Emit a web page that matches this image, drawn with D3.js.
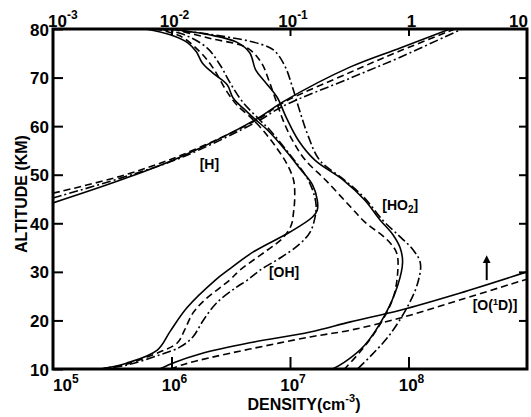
<!DOCTYPE html>
<html>
<head>
<meta charset="utf-8">
<script src="https://cdn.jsdelivr.net/npm/d3@7/dist/d3.min.js"></script>
<style>
  body { margin: 0; background: #fff; }
  svg { display: block; }
</style>
</head>
<body>
<svg id="chart" width="531" height="417"></svg>
<script>
// Vertical profiles, each point is [altitude (km), log10 density (cm^-3)]
const hSolid   = [[44.2,5.00],[48.9,5.57],[53.6,6.07],[61.5,6.72],[65.0,6.94],[72.2,7.51],[76.1,7.93],[80.0,8.35]];
const hDashed  = [[46.2,5.00],[49.7,5.57],[53.9,6.07],[61.3,6.72],[64.8,6.94],[71.1,7.51],[75.5,7.93],[80.0,8.39]];
const hDashDot = [[45.2,5.00],[49.3,5.57],[53.4,6.07],[60.9,6.72],[64.1,6.94],[69.9,7.51],[74.2,7.93],[80.0,8.45]];

const ohSolid = [[80.0,5.78],[78.8,5.99],[77.1,6.14],[75.3,6.21],[73.0,6.26],[70.9,6.35],[68.5,6.47],[65.8,6.52],
  [62.9,6.64],[60.9,6.73],[59.2,6.81],[55.1,6.96],[51.4,7.08],[47.9,7.19],[44.8,7.23],[42.7,7.23],[41.3,7.19],
  [38.2,7.00],[34.1,6.69],[30.4,6.48],[28.3,6.37],[22.6,6.13],[17.8,5.99],[13.9,5.88],[11.2,5.62],[10.0,5.40]];
const ohDashed = [[80.0,5.86],[78.6,6.07],[75.3,6.24],[72.0,6.35],[67.0,6.47],[64.4,6.55],[61.3,6.69],[59.2,6.77],
  [56.1,6.87],[52.4,6.97],[48.9,7.03],[45.4,7.04],[42.3,7.03],[39.6,7.01],[37.0,6.94],[34.5,6.81],[30.4,6.58],
  [28.3,6.49],[24.2,6.28],[21.5,6.18],[18.0,6.11],[15.4,6.05],[13.5,5.90],[11.0,5.62],[10.0,5.40]];
const ohDashDot = [[80.0,5.90],[78.8,6.11],[76.1,6.30],[72.6,6.41],[69.1,6.49],[65.0,6.60],[60.9,6.76],[59.2,6.83],
  [54.1,7.00],[49.9,7.13],[46.9,7.19],[43.8,7.22],[41.1,7.21],[38.2,7.17],[35.7,7.08],[32.9,6.92],[30.4,6.75],
  [28.3,6.64],[26.7,6.54],[23.6,6.38],[20.1,6.27],[16.6,6.18],[14.5,6.07],[12.9,5.90],[10.8,5.62],[10.0,5.40]];

const ho2Solid = [[80.0,5.99],[78.8,6.32],[77.3,6.55],[75.1,6.66],[71.6,6.71],[69.1,6.79],[66.0,6.89],[61.7,6.97],
  [57.1,7.07],[53.0,7.21],[48.9,7.45],[44.8,7.63],[40.7,7.76],[37.6,7.87],[34.9,7.93],[32.0,7.95],[27.3,7.91],
  [21.1,7.80],[14.9,7.63],[11.4,7.46],[10.0,7.36]];
const ho2Dashed = [[80.0,6.01],[78.1,6.32],[76.1,6.64],[73.0,6.76],[69.5,6.82],[65.4,6.88],[61.3,6.94],[57.1,7.02],
  [53.0,7.13],[48.9,7.30],[43.4,7.51],[40.3,7.63],[36.6,7.82],[33.9,7.90],[30.4,7.91],[24.6,7.87],[18.4,7.74],
  [13.5,7.59],[10.0,7.46]];
const ho2DashDot = [[80.0,5.95],[78.6,6.41],[76.9,6.75],[75.5,6.87],[72.2,6.96],[68.1,7.02],[63.3,7.08],[58.2,7.15],
  [53.0,7.25],[48.9,7.46],[45.2,7.63],[40.7,7.78],[37.2,7.93],[34.5,8.04],[31.8,8.10],[27.9,8.08],[23.2,8.00],
  [17.0,7.84],[12.9,7.69],[10.0,7.57]];

const o1dSolid  = [[10.0,5.90],[11.4,6.03],[13.1,6.24],[15.4,6.66],[17.6,7.17],[19.7,7.51],[22.1,7.93],[25.6,8.43],[30.0,9.00]];
const o1dDashed = [[10.0,5.99],[11.0,6.11],[12.3,6.32],[14.1,6.66],[16.6,7.17],[18.0,7.51],[20.5,7.93],[24.2,8.43],[28.5,9.00]];

// Axis ticks
const altitudeTicks = [10, 20, 30, 40, 50, 60, 70, 80];
const densityExponents = [5, 6, 7, 8];
const topTickValues = [1e-3, 1e-2, 1e-1, 1, 10];
const topTickLabels = [["10", "-3"], ["10", "-2"], ["10", "-1"], ["1", ""], ["10", ""]];

// Upward arrow beside the O(1D) profile: log10 density, altitude range (km)
const arrowMark = { lg: 8.66, from: 28.3, to: 32.6 };

const W = 531, H = 417;
const m = { left: 53, right: 4, top: 29, bottom: 48 };
const svg = d3.select("#chart");

const x = d3.scaleLog().domain([1e5, 1e9]).range([m.left, W - m.right]);
const xTop = d3.scaleLog().domain([1e-3, 10]).range([m.left, W - m.right]);
const y = d3.scaleLinear().domain([10, 80]).range([H - m.bottom, m.top]);

const FONT = "'Liberation Sans', Arial, Helvetica, sans-serif";

svg.append("defs").append("clipPath").attr("id", "plot")
  .append("rect")
  .attr("x", x.range()[0]).attr("y", y.range()[1])
  .attr("width", x.range()[1] - x.range()[0])
  .attr("height", y.range()[0] - y.range()[1]);

const line = d3.line()
  .x(d => x(Math.pow(10, d[1])))
  .y(d => y(d[0]))
  .curve(d3.curveCatmullRom.alpha(0.5));

const DASH = { solid: null, dashed: "7,4", dashdot: "9,3,2,3" };
const series = [
  [hSolid, "solid"], [hDashed, "dashed"], [hDashDot, "dashdot"],
  [ohSolid, "solid"], [ohDashed, "dashed"], [ohDashDot, "dashdot"],
  [ho2Solid, "solid"], [ho2Dashed, "dashed"], [ho2DashDot, "dashdot"],
  [o1dSolid, "solid"], [o1dDashed, "dashed"]
];

svg.append("g").attr("clip-path", "url(#plot)")
  .selectAll("path").data(series).join("path")
  .attr("d", d => line(d[0]))
  .attr("fill", "none")
  .attr("stroke", "#000")
  .attr("stroke-width", 1.6)
  .attr("stroke-dasharray", d => DASH[d[1]]);

// Axes with inward ticks
const tickStyle = g => {
  g.select(".domain").remove();
  g.selectAll(".tick line").attr("stroke", "#000").attr("stroke-width", 2);
};

svg.append("g").attr("transform", `translate(${m.left},0)`)
  .call(d3.axisLeft(y).tickValues(altitudeTicks).tickSize(-10).tickPadding(4).tickFormat(d3.format("d")))
  .call(tickStyle)
  .call(g => g.selectAll(".tick text")
    .attr("font-family", FONT).attr("font-size", 17).attr("font-weight", "bold")
    .attr("fill", "#000").attr("dy", "0.36em"));

svg.append("g").attr("transform", `translate(${W - m.right},0)`)
  .call(d3.axisRight(y).tickValues(altitudeTicks.slice(1, -1)).tickSize(-8).tickFormat(""))
  .call(tickStyle);

svg.append("g").attr("transform", `translate(0,${H - m.bottom})`)
  .call(d3.axisBottom(x).tickValues(densityExponents.slice(1).map(e => Math.pow(10, e))).tickSize(-12).tickFormat(""))
  .call(tickStyle);

svg.append("g").attr("transform", `translate(0,${m.top})`)
  .call(d3.axisTop(xTop).tickValues(topTickValues.slice(1, -1)).tickSize(-7).tickFormat(""))
  .call(tickStyle);

// Frame
svg.append("rect")
  .attr("x", x.range()[0]).attr("y", y.range()[1])
  .attr("width", x.range()[1] - x.range()[0])
  .attr("height", y.range()[0] - y.range()[1])
  .attr("fill", "none").attr("stroke", "#000").attr("stroke-width", 3);

// Power-of-ten labels
function powerLabel(g, px, py, base, exp, anchor) {
  const t = g.append("text")
    .attr("x", px).attr("y", py)
    .attr("text-anchor", anchor)
    .attr("font-family", FONT).attr("font-size", 17).attr("font-weight", "bold")
    .attr("fill", "#000");
  t.append("tspan").text(base);
  if (exp !== "") t.append("tspan").attr("font-size", 12).attr("dy", -8).text(exp);
}

const bottomLabels = svg.append("g");
densityExponents.forEach((e, i) => {
  const px = x(Math.pow(10, e));
  if (i === 0) powerLabel(bottomLabels, px, 391, "10", String(e), "start");
  else powerLabel(bottomLabels, px + 3, 391, "10", String(e), "middle");
});

const topLabels = svg.append("g");
topTickValues.forEach((v, i) => {
  const px = xTop(v);
  const [b, e] = topTickLabels[i];
  if (i === 0) powerLabel(topLabels, px - 5, 27, b, e, "start");
  else if (i === topTickValues.length - 1) powerLabel(topLabels, px + 1, 27, b, e, "end");
  else powerLabel(topLabels, px + 3, 27, b, e, "middle");
});

// Axis titles
svg.append("text")
  .attr("transform", "translate(27,194) rotate(-90)")
  .attr("text-anchor", "middle")
  .attr("font-family", FONT).attr("font-size", 16).attr("font-weight", "bold")
  .text("ALTITUDE (KM)");

const xt = svg.append("text")
  .attr("x", 304).attr("y", 410)
  .attr("text-anchor", "middle")
  .attr("font-family", FONT).attr("font-size", 16).attr("font-weight", "bold");
xt.append("tspan").text("DENSITY(cm");
xt.append("tspan").attr("font-size", 11).attr("dy", -8).text("-3");
xt.append("tspan").attr("dy", 8).text(")");

// Species labels, placed at [altitude, log10 density]
const LABEL_STYLE = t => t.attr("text-anchor", "middle")
  .attr("font-family", FONT).attr("font-size", 14).attr("font-weight", "bold").attr("fill", "#000");

LABEL_STYLE(svg.append("text").attr("x", x(Math.pow(10, 6.32))).attr("y", y(51.2))).text("[H]");
LABEL_STYLE(svg.append("text").attr("x", x(Math.pow(10, 6.95))).attr("y", y(28.9))).text("[OH]");

const ho2Label = LABEL_STYLE(svg.append("text").attr("x", x(Math.pow(10, 7.93))).attr("y", y(42.7)));
ho2Label.append("tspan").text("[HO");
ho2Label.append("tspan").attr("font-size", 10).attr("dy", 3).text("2");
ho2Label.append("tspan").attr("dy", -3).text("]");

const o1dLabel = LABEL_STYLE(svg.append("text").attr("x", x(Math.pow(10, 8.73))).attr("y", y(22.1)));
o1dLabel.append("tspan").text("[O(");
o1dLabel.append("tspan").attr("font-size", 9).attr("dy", -5).text("1");
o1dLabel.append("tspan").attr("dy", 5).text("D)]");

// Arrow
svg.append("defs").append("marker")
  .attr("id", "head").attr("viewBox", "0 0 10 10")
  .attr("refX", 5).attr("refY", 5)
  .attr("markerWidth", 4).attr("markerHeight", 5).attr("orient", "auto")
  .append("path").attr("d", "M0,0 L10,5 L0,10 Z").attr("fill", "#000");
svg.append("line")
  .attr("x1", x(Math.pow(10, arrowMark.lg))).attr("x2", x(Math.pow(10, arrowMark.lg)))
  .attr("y1", y(arrowMark.from)).attr("y2", y(arrowMark.to))
  .attr("stroke", "#000").attr("stroke-width", 2)
  .attr("marker-end", "url(#head)");
</script>
</body>
</html>
